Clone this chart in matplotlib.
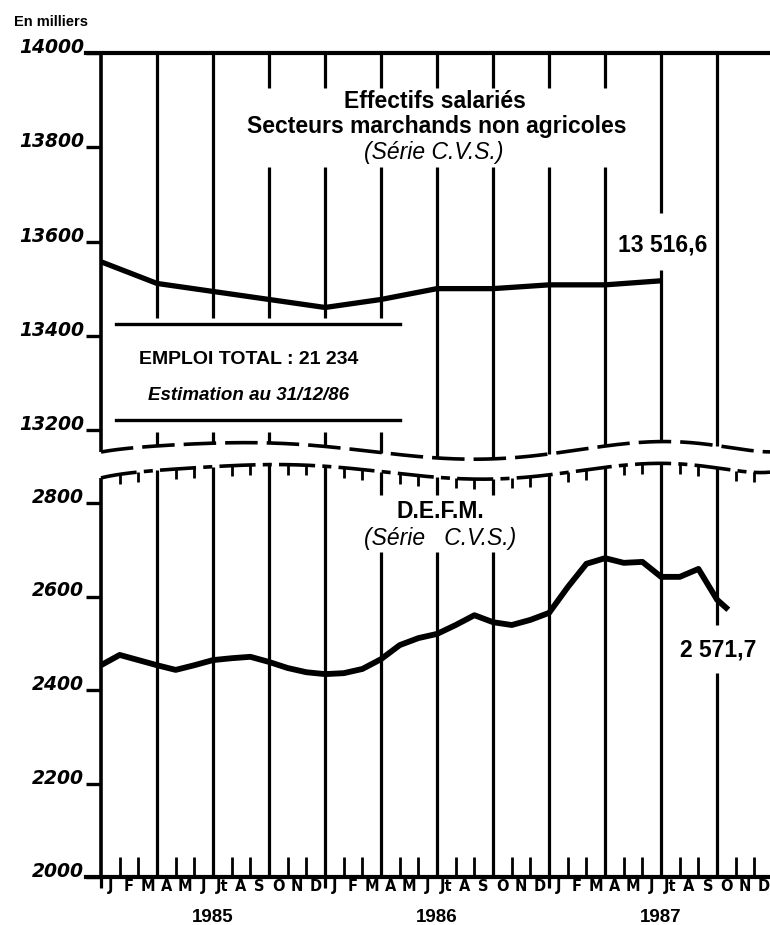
import numpy as np
import matplotlib
matplotlib.use("Agg")
import matplotlib.pyplot as plt
import matplotlib.transforms as mtransforms

# ---------------- data ----------------
emploi_months = [0, 3, 6, 9, 12, 15, 18, 21, 24, 27, 30]
emploi_values = [13557, 13511, 13494, 13477, 13460, 13477, 13500, 13500, 13508, 13508, 13516.6]

defm_months = list(range(34)) + [33.6]
defm_values = [2453, 2475, 2464, 2453, 2443, 2453, 2464, 2468, 2471, 2460,
               2447, 2438, 2434, 2436, 2445, 2466, 2496, 2511, 2520, 2539,
               2560, 2545, 2539, 2550, 2565, 2620, 2670, 2682, 2672, 2674,
               2642, 2642, 2659, 2593, 2571.7]

upper_yticks = [14000, 13800, 13600, 13400, 13200]
lower_yticks = [2800, 2600, 2400, 2200, 2000]
month_labels = ["J", "F", "M", "A", "M", "J", "Jt", "A", "S", "O", "N", "D"]
years = ["1985", "1986", "1987"]

# ---------------- layout ----------------
W, H = 770, 925
fig = plt.figure(figsize=(W / 100, H / 100), dpi=100)
fig.patch.set_facecolor("white")

px = fig.add_axes([0, 0, 1, 1], zorder=0)
px.set_xlim(0, W)
px.set_ylim(H, 0)
px.axis("off")

x0 = 101
mpx = 18.67
xmax = (W - x0) / mpx

up_top, up_bot = 53, 465
up_scale = (430 - 53) / 800.0
ax1 = fig.add_axes([x0 / W, 1 - up_bot / H, (W - x0) / W, (up_bot - up_top) / H], zorder=2)
ax1.set_xlim(0, xmax)
ax1.set_ylim(14000 - (up_bot - up_top) / up_scale, 14000)

lo_top, lo_bot = 462, 877
lo_scale = (877 - 503) / 800.0
ax2 = fig.add_axes([x0 / W, 1 - lo_bot / H, (W - x0) / W, (lo_bot - lo_top) / H], zorder=2)
ax2.set_xlim(0, xmax)
ax2.set_ylim(2000, 2000 + (lo_bot - lo_top) / lo_scale)

for ax in (ax1, ax2):
    ax.patch.set_alpha(0)
    for s in ax.spines.values():
        s.set_visible(False)

T = mtransforms.blended_transform_factory(ax1.transData, px.transData)

# wavy break lines (decoration)
wm = np.array([0, 3, 6, 9, 12, 15, 18, 21, 24, 27, 30, 33, 36])
wu = np.array([452, 446, 443, 443, 447, 452, 457, 461, 453, 445, 443, 445, 452])
wl = np.array([478, 470, 467, 465, 466, 470, 479, 480, 473, 467, 465, 467, 472])
cu = np.polyfit(wm / 36, wu, 7)
cl = np.polyfit(wm / 36, wl, 7)
def wave_u(m):
    return np.polyval(cu, np.asarray(m) / 36)
def wave_l(m):
    return np.polyval(cl, np.asarray(m) / 36)

mm = np.linspace(0, xmax, 400)
px_line_kw = dict(color="black", transform=T, clip_on=False)
ax1.plot(mm, wave_u(mm), lw=2.6, linestyle=(0, (9, 2.5)), **px_line_kw)
ax1.plot(mm, wave_l(mm), lw=2.6, linestyle=(0, (10, 2, 2.5, 2)), **px_line_kw)

# left axis lines
ax1.plot([0, 0], [up_top, wave_u(0)], lw=2.6, solid_capstyle="butt", **px_line_kw)
ax1.plot([0, 0], [wave_l(0), lo_bot], lw=2.6, solid_capstyle="butt", **px_line_kw)
# top and bottom horizontals
ax1.plot([-15 / mpx, xmax], [up_top, up_top], lw=3, **px_line_kw)
ax1.plot([-15 / mpx, xmax], [lo_bot, lo_bot], lw=3, **px_line_kw)

# upper quarterly vertical lines with gaps
def segs(m, y0, y1, gaps):
    pts = [y0]
    for g0, g1 in gaps:
        pts += [g0, g1]
    pts.append(y1)
    return [(pts[i], pts[i + 1]) for i in range(0, len(pts), 2)]

for q in range(1, 12):
    m = 3 * q
    gaps = []
    if 9 <= m <= 27:
        gaps.append((88, 167))
    if 3 <= m <= 15:
        gaps.append((318, 432))
    if m == 30:
        gaps.append((213, 270))
    gaps.sort()
    for a, b in segs(m, up_top, float(wave_u(m)), gaps):
        ax1.plot([m, m], [a, b], lw=2.3, solid_capstyle="butt", **px_line_kw)

# lower quarterly lines with gaps
for q in range(1, 12):
    m = 3 * q
    gaps = []
    if m in (15, 18, 21):
        gaps.append((495, 552))
    if m == 33:
        gaps.append((625, 673))
    for a, b in segs(m, float(wave_l(m)), lo_bot, gaps):
        ax1.plot([m, m], [a, b], lw=2.3, solid_capstyle="butt", **px_line_kw)

# monthly small ticks
for m in range(1, 36):
    if m % 3 == 0:
        continue
    ax1.plot([m, m], [lo_bot - 20, lo_bot], lw=2.0, solid_capstyle="butt", **px_line_kw)
    top = float(wave_l(m))
    ax1.plot([m, m], [top, top + 10], lw=2.0, solid_capstyle="butt", **px_line_kw)
for m in (0, 12, 24):
    ax1.plot([m, m], [lo_bot, lo_bot + 11], lw=2.3, solid_capstyle="butt", **px_line_kw)

# EMPLOI box lines
px.plot([116, 400], [324, 324], color="black", lw=2.4)
px.plot([116, 400], [420, 420], color="black", lw=2.4)

# ---------------- data lines ----------------
ax1.plot(emploi_months, emploi_values, color="black", lw=3.8, solid_joinstyle="round",
         solid_capstyle="butt", zorder=5)
ax2.plot(defm_months, defm_values, color="black", lw=4.2, solid_joinstyle="round",
         solid_capstyle="butt", zorder=5)

# ---------------- ticks ----------------
tick_font = dict(family="DejaVu Sans", weight="bold", style="italic", size=13.5)
ax1.set_yticks(upper_yticks)
ax1.set_yticklabels([str(v) for v in upper_yticks], fontdict=tick_font)
ax2.set_yticks(lower_yticks)
ax2.set_yticklabels([str(v) for v in lower_yticks], fontdict=tick_font)
for ax in (ax1, ax2):
    ax.tick_params(axis="y", length=11, width=2.4, pad=1, direction="out")
    for lab in ax.get_yticklabels():
        lab.set_verticalalignment("baseline")

ax1.set_xticks([])
ax2.set_xticks([m + 0.5 for m in range(36)])
ax2.set_xticklabels(month_labels * 3, fontdict=dict(family="DejaVu Sans", weight="bold", size=10.5))
ax2.tick_params(axis="x", length=0, pad=1.5)

for i, y in enumerate(years):
    ax1.text(6 + 12 * i, 917, y, transform=T, ha="center", va="center",
             family="Liberation Sans", weight="bold", size=13.5)

# ---------------- texts ----------------
px.text(14, 22, "En milliers", ha="left", va="center", family="Liberation Sans",
        weight="bold", size=10.5)
tkw = dict(ha="center", va="center", family="Liberation Sans", size=16.5)
px.text(435, 101, "Effectifs salariés", weight="bold", **tkw)
px.text(437, 127, "Secteurs marchands non agricoles", weight="bold", **tkw)
px.text(434, 153, "(Série C.V.S.)", style="italic", **tkw)
px.text(663, 245, "13 516,6", weight="bold", **tkw)
px.text(440, 512, "D.E.F.M.", weight="bold", **tkw)
px.text(440, 539, "(Série   C.V.S.)", style="italic", **tkw)
px.text(718, 650, "2 571,7", weight="bold", **tkw)

ckw = dict(ha="center", va="center", family="Liberation Sans")
px.text(249, 360, "EMPLOI TOTAL : 21 234", weight="bold", size=14, **ckw)
px.text(248, 395, "Estimation au 31/12/86", weight="bold", style="italic", size=13.5, **ckw)

fig.savefig("out.png", dpi=100, facecolor="white")
